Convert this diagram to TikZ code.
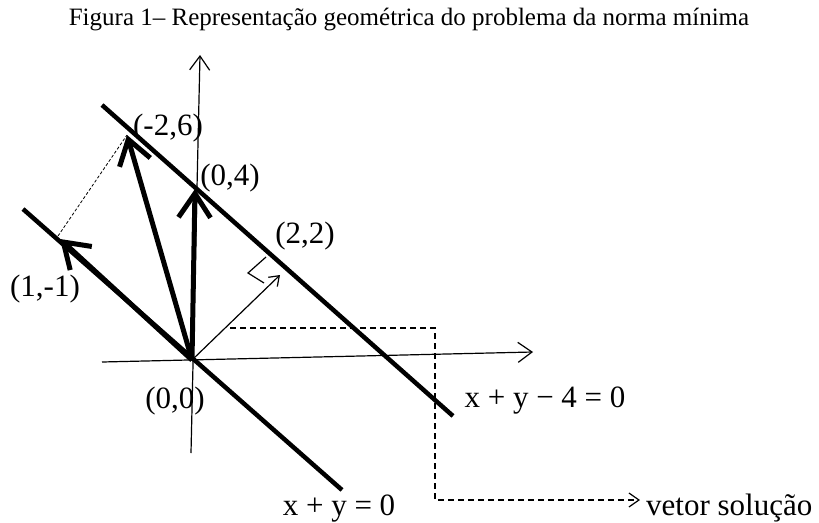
\documentclass[tikz,border=0pt]{standalone}
\usepackage{fontspec}
\setmainfont{Liberation Serif}
\usetikzlibrary{arrows.meta}
\begin{document}
\begin{tikzpicture}[x=1pt,y=-1pt,
  lbl/.style={font=\fontsize{31}{33}\selectfont, inner sep=0pt},
  bigline/.style={line width=4.5pt},
  bigvec/.style={line width=5pt,-{Straight Barb[length=24pt,width=32pt]}},
  axis/.style={line width=1.2pt,-{Straight Barb[length=14pt,width=20pt]}},
  thinvec/.style={line width=1.2pt,-{Straight Barb[length=9pt,width=13pt]}},
  dashline/.style={line width=1.2pt,dash pattern=on 6pt off 4pt}]
\useasboundingbox (0,0) rectangle (819,522);
% title
\node[font=\fontsize{25}{28}\selectfont, inner sep=0pt] (title) at (409,20) {Figura 1– Representação geométrica do problema da norma mínima};
% coordinates
\coordinate (O) at (192,360);
\coordinate (ytop) at (200,55);
\coordinate (ybot) at (191,453);
\coordinate (xleft) at (102,362);
\coordinate (xright) at (533,352);
\coordinate (L1a) at (102,105);
\coordinate (L1b) at (453,416);
\coordinate (L0a) at (23,209);
\coordinate (L0b) at (342,490);
\coordinate (P04) at (195,189);
\coordinate (P26) at (127,135);
\coordinate (P11) at (60,239);
\coordinate (P22) at (280,275);
\coordinate (D1) at (230,328);
\coordinate (D2) at (435,328);
\coordinate (D3) at (435,500);
\coordinate (D4) at (640,500);
\coordinate (R1) at (266,257);
\coordinate (R2) at (248,273);
\coordinate (R3) at (264,283);
\coordinate (Q) at (58,236);
% axes
\draw[axis] (ybot) -- (ytop);
\draw[axis] (xleft) -- (xright);
% lines
\draw[bigline] (L1a) -- (L1b);
\draw[bigline] (L0a) -- (L0b);
% dashed path
\draw[dashline,-{Straight Barb[length=10pt,width=14pt]}] (D1) -- (D2) -- (D3) -- (D4);
% thin dashed
\draw[line width=0.8pt,dash pattern=on 3pt off 2pt] (Q) -- (P26);
% vectors
\draw[bigvec] (O) -- (P04);
\draw[bigvec] (O) -- (P26);
\draw[bigvec] (O) -- (P11);
\draw[thinvec] (O) -- (P22);
% right angle
\draw[line width=1.2pt] (R1) -- (R2) -- (R3);
% labels
\node[lbl] (l26) at (168,128) {(-2,6)};
\node[lbl] (l04) at (230,178) {(0,4)};
\node[lbl] (l22) at (305,236) {(2,2)};
\node[lbl] (l11) at (45,289) {(1,-1)};
\node[lbl] (l00) at (175,401) {(0,0)};
\node[lbl] (leq1) at (545,401) {x + y − 4 = 0};
\node[lbl,anchor=base] (leq0) at (339,515) {x + y = 0};
\node[lbl,anchor=base west] (lsol) at (646,515) {vetor solução};
\end{tikzpicture}
\end{document}
